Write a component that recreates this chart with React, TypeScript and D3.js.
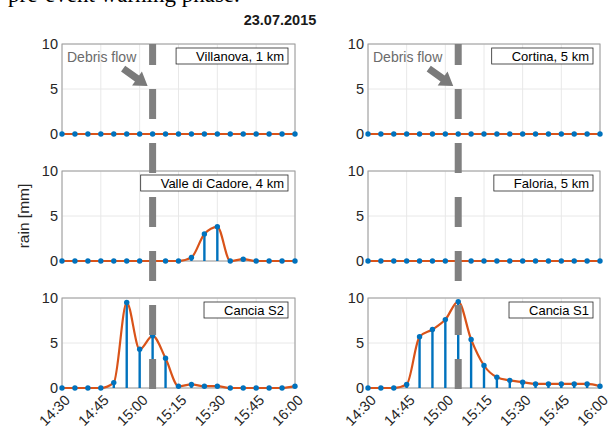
import { useEffect, useRef } from 'react'
import * as d3 from 'd3'

// 5-minute rain totals, 23.07.2015
const TIMES = [
  '14:30', '14:35', '14:40', '14:45', '14:50', '14:55', '15:00', '15:05', '15:10', '15:15',
  '15:20', '15:25', '15:30', '15:35', '15:40', '15:45', '15:50', '15:55', '16:00',
]
const TIME_TICKS = ['14:30', '14:45', '15:00', '15:15', '15:30', '15:45', '16:00']
const RAIN_TICKS = [0, 5, 10]
const DEBRIS_FLOW_TIME = '15:05'

const STATIONS = ['Villanova, 1 km', 'Cortina, 5 km', 'Valle di Cadore, 4 km', 'Faloria, 5 km', 'Cancia S2', 'Cancia S1']

const VILLANOVA = [0, 0, 0, 0, 0, 0, 0, 0, 0, 0, 0, 0, 0, 0, 0, 0, 0, 0, 0]
const CORTINA = [0, 0, 0, 0, 0, 0, 0, 0, 0, 0, 0, 0, 0, 0, 0, 0, 0, 0, 0]
const VALLE_DI_CADORE = [0, 0, 0, 0, 0, 0, 0, 0, 0, 0, 0.4, 3.0, 3.8, 0, 0.2, 0, 0, 0, 0]
const FALORIA = [0, 0, 0, 0, 0, 0, 0, 0, 0, 0, 0, 0, 0, 0, 0, 0, 0, 0, 0]
const CANCIA_S2 = [0, 0, 0, 0, 0.6, 9.5, 4.3, 5.8, 3.3, 0.2, 0.4, 0.2, 0.2, 0, 0, 0, 0, 0, 0.2]
const CANCIA_S1 = [0, 0, 0, 0.4, 5.7, 6.5, 7.6, 9.6, 5.4, 2.5, 1.2, 0.85, 0.65, 0.45, 0.45, 0.45, 0.45, 0.45, 0.2]

const SERIES = [VILLANOVA, CORTINA, VALLE_DI_CADORE, FALORIA, CANCIA_S2, CANCIA_S1]

const FONT = '"Liberation Sans", Arial, Helvetica, sans-serif'
const BLUE = '#0072BD'
const ORANGE = '#D95319'

export default function App() {
  const svgRef = useRef<SVGSVGElement>(null)

  useEffect(() => {
    if (!svgRef.current) return
    const svg = d3.select(svgRef.current)
    svg.selectAll('*').remove()

    const cols = [[62, 295], [368, 600]]
    const rows = [[44, 134], [171, 261], [298, 388]]

    // clipped running text from the page above
    svg.append('text')
      .attr('x', 8).attr('y', 2)
      .attr('font-family', '"Liberation Serif", "Times New Roman", serif')
      .attr('font-size', 23)
      .attr('fill', '#000')
      .text('pre-event warning phase.')

    svg.append('text')
      .attr('x', 280).attr('y', 25)
      .attr('text-anchor', 'middle')
      .attr('font-family', FONT)
      .attr('font-size', 14.5)
      .attr('font-weight', 700)
      .attr('fill', '#1a1a1a')
      .text('23.07.2015')

    svg.append('text')
      .attr('transform', `translate(29,216) rotate(-90)`)
      .attr('text-anchor', 'middle')
      .attr('font-family', FONT)
      .attr('font-size', 15.5)
      .attr('fill', '#262626')
      .text('rain [mm]')

    const overlay: { x: number; col: number }[] = []

    SERIES.forEach((values, i) => {
      const col = i % 2
      const row = Math.floor(i / 2)
      const [x0, x1] = cols[col]
      const [y0, y1] = rows[row]
      const x = d3.scalePoint<string>().domain(TIMES).range([x0, x1])
      const y = d3.scaleLinear().domain([0, 10]).range([y1, y0])
      const g = svg.append('g')

      g.append('rect')
        .attr('x', x0).attr('y', y0)
        .attr('width', x1 - x0).attr('height', y1 - y0)
        .attr('fill', '#fff')

      // grid
      TIME_TICKS.forEach((t) => {
        g.append('line')
          .attr('x1', x(t)!).attr('x2', x(t)!)
          .attr('y1', y0).attr('y2', y1)
          .attr('stroke', '#e8e8e8').attr('stroke-width', 1)
      })
      RAIN_TICKS.forEach((v) => {
        g.append('line')
          .attr('x1', x0).attr('x2', x1)
          .attr('y1', y(v)).attr('y2', y(v))
          .attr('stroke', '#e8e8e8').attr('stroke-width', 1)
      })

      // axes box
      g.append('rect')
        .attr('x', x0).attr('y', y0)
        .attr('width', x1 - x0).attr('height', y1 - y0)
        .attr('fill', 'none')
        .attr('stroke', '#9a9a9a').attr('stroke-width', 1)

      // y tick labels
      RAIN_TICKS.forEach((v) => {
        g.append('text')
          .attr('x', x0 - 4).attr('y', y(v))
          .attr('dy', '0.36em')
          .attr('text-anchor', 'end')
          .attr('font-family', FONT)
          .attr('font-size', 14.5)
          .attr('fill', '#262626')
          .text(v)
      })

      // x tick labels on the bottom row
      if (row === 2) {
        TIME_TICKS.forEach((t) => {
          const tx = x(t)! + 9
          const ty = y1 + 13
          g.append('text')
            .attr('transform', `translate(${tx},${ty}) rotate(-45)`)
            .attr('text-anchor', 'end')
            .attr('font-family', FONT)
            .attr('font-size', 14.5)
            .attr('fill', '#262626')
            .text(t)
        })
      }

      // stems
      values.forEach((v, j) => {
        if (v <= 0) return
        g.append('line')
          .attr('x1', x(TIMES[j])!).attr('x2', x(TIMES[j])!)
          .attr('y1', y(0)).attr('y2', y(v))
          .attr('stroke', BLUE).attr('stroke-width', 2.4)
      })

      const line = d3.line<number>()
        .x((_, j) => x(TIMES[j])!)
        .y((v) => y(v))
        .curve(d3.curveMonotoneX)

      g.append('path')
        .attr('d', line(values))
        .attr('fill', 'none')
        .attr('stroke', ORANGE)
        .attr('stroke-width', 2.2)

      g.selectAll('circle.pt')
        .data(values)
        .join('circle')
        .attr('class', 'pt')
        .attr('cx', (_, j) => x(TIMES[j])!)
        .attr('cy', (v) => y(v))
        .attr('r', 2.7)
        .attr('fill', BLUE)

      // legend box (text only, MATLAB style)
      const lg = g.append('g')
      const txt = lg.append('text')
        .attr('x', x1 - 11).attr('y', y0 + 16.5)
        .attr('text-anchor', 'end')
        .attr('font-family', FONT)
        .attr('font-size', 13)
        .attr('fill', '#000')
        .text(STATIONS[i])
      const w = (txt.node() as SVGTextElement).getComputedTextLength()
      lg.insert('rect', 'text')
        .attr('x', x1 - 11 - w - 20).attr('y', y0 + 4)
        .attr('width', w + 24).attr('height', 16)
        .attr('fill', '#fff')
        .attr('stroke', '#262626').attr('stroke-width', 0.8)

      if (row === 0) overlay.push({ x: x(DEBRIS_FLOW_TIME)!, col })
    })

    // debris flow marker: dashed line through each column + arrow annotation
    overlay.forEach(({ x: dx, col }) => {
      const [x0] = cols[col]
      svg.append('line')
        .attr('x1', dx).attr('x2', dx)
        .attr('y1', rows[0][0]).attr('y2', rows[2][1] + 1)
        .attr('stroke', '#808080').attr('stroke-width', 7)
        .attr('stroke-dasharray', '30 24')
        .attr('stroke-dashoffset', 9)

      svg.append('text')
        .attr('x', x0 + 5).attr('y', 62)
        .attr('font-family', FONT)
        .attr('font-size', 14)
        .attr('fill', '#6b6b6b')
        .text('Debris flow')

      const tipX = dx - 5
      const tipY = 86
      const ang = Math.atan2(17, 24)
      const len = 30, sh = 3.6, hl = 13, hw = 8.5
      const pts: [number, number][] = [
        [-len, -sh], [-hl, -sh], [-hl, -hw], [0, 0], [-hl, hw], [-hl, sh], [-len, sh],
      ]
      svg.append('polygon')
        .attr('points', pts.map(([px, py]) => {
          const rx = px * Math.cos(ang) - py * Math.sin(ang) + tipX
          const ry = px * Math.sin(ang) + py * Math.cos(ang) + tipY
          return `${rx},${ry}`
        }).join(' '))
        .attr('fill', '#7a7a7a')
    })
  }, [])

  return (
    <svg
      ref={svgRef}
      width={616}
      height={432}
      style={{ position: 'absolute', left: 0, top: 0, background: '#fff' }}
    />
  )
}
